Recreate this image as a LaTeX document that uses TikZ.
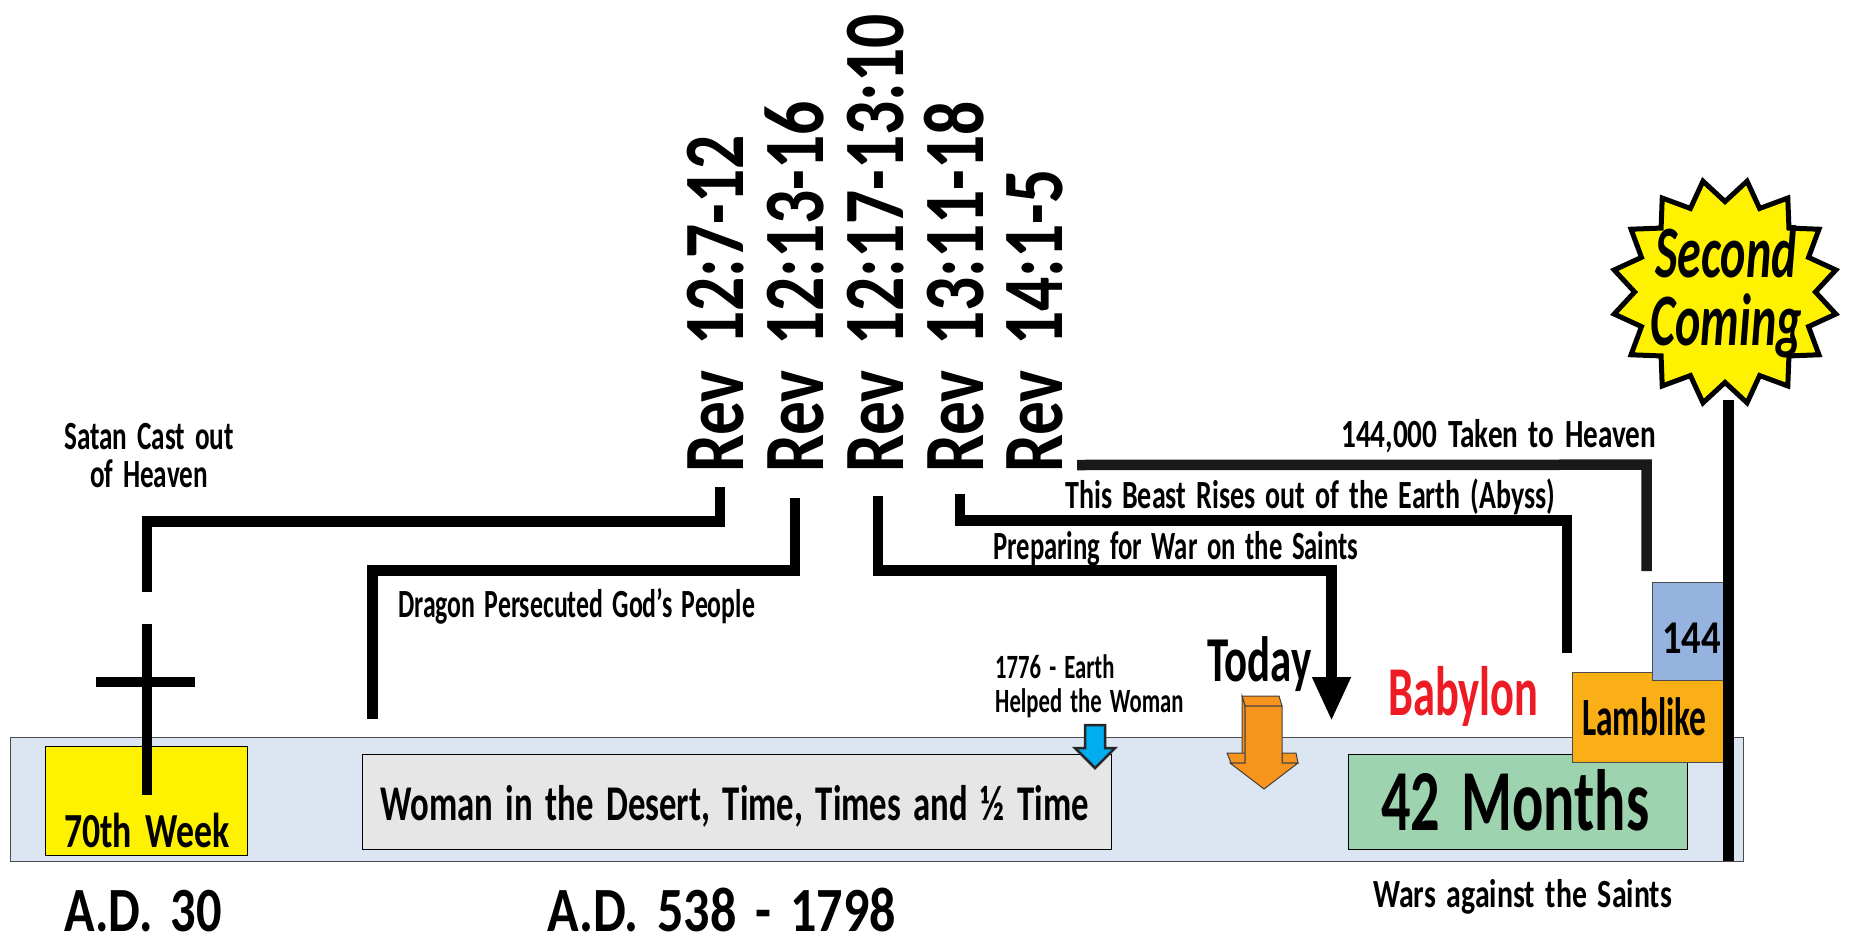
\documentclass[tikz,border=0pt]{standalone}
\usepackage{fontspec}
\usepackage{tikz}
\usetikzlibrary{arrows.meta,shapes.geometric}
\setmainfont[WordSpace=1.6]{Carlito}
\newcommand{\hand}[2]{\fontsize{#1}{#1}\bfseries\addfontfeature{FakeStretch=#2}}
\definecolor{barblue}{HTML}{DCE6F2}
\definecolor{weekyellow}{HTML}{FFF200}
\definecolor{desertgrey}{HTML}{E6E6E6}
\definecolor{monthgreen}{HTML}{9DD3AF}
\definecolor{lambgold}{HTML}{FAAF17}
\definecolor{boxblue}{HTML}{95B3DE}
\definecolor{todayorange}{HTML}{F7941D}
\definecolor{helpblue}{HTML}{00AEEF}
\definecolor{babred}{HTML}{ED1C24}
\tikzset{
  plate/.style={draw=black, line width=1.2pt, inner sep=0pt, anchor=north west},
  rule/.style={line width=10.5pt, black},
  revlabel/.style={rotate=90, anchor=base west, inner sep=0pt, font=\hand{86}{0.785}},
  note/.style={anchor=base west, inner sep=0pt},
  tag/.style={anchor=base west, inner sep=0pt}
}
\begin{document}
\begin{tikzpicture}[x=1pt, y=-1pt]
  \useasboundingbox (0,0) rectangle (1851,936);
  \node[plate, fill=barblue, draw=black!70, minimum width=1733pt, minimum height=124pt] (bar) at (10,737) {};
  \node[plate, fill=weekyellow, minimum width=202pt, minimum height=109pt] (week) at (45,746) {};
  \node[plate, fill=desertgrey, minimum width=749pt, minimum height=95pt] (desert) at (362,754) {};
  \node[plate, fill=monthgreen, minimum width=339pt, minimum height=95pt] (months) at (1348,754) {};
  \node[plate, fill=lambgold, draw=black!70, minimum width=152pt, minimum height=90pt] (lamb) at (1572,672) {};
  \node[plate, fill=boxblue, draw=black!70, minimum width=72pt, minimum height=98pt] (box144) at (1652,582) {};

  \node[tag, font=\hand{49}{0.73}] (weeklabel) at (64,847) {70th Week};
  \node[tag, font=\hand{50}{0.695}] (desertlabel) at (380,820) {Woman in the Desert, Time, Times and ½ Time};
  \node[tag, font=\hand{87}{0.67}] (monthslabel) at (1381,830) {42 Months};
  \node[tag, font=\hand{54}{0.62}] (lamblabel) at (1582,735) {Lamblike};
  \node[tag, font=\hand{47}{0.82}] (label144) at (1662,653) {144};
  \node[tag, font=\hand{63}{0.8}] (ad30) at (64,931) {A.D. 30};
  \node[tag, font=\hand{63}{0.827}] (ad538) at (547,931) {A.D. 538 - 1798};
  \node[tag, font=\hand{64}{0.67}] (today) at (1207,681) {Today};
  \node[tag, font=\hand{70}{0.635}, text=babred] (babylon) at (1388,715) {Babylon};
  \node[note, align=center, anchor=north, font=\hand{40}{0.68}] (satan) at (149,423) {Satan Cast out\\[-2pt]of Heaven};
  \node[note, font=\hand{40}{0.645}] (dragon) at (398,617) {Dragon Persecuted God's People};
  \node[note, font=\hand{40}{0.73}] (taken) at (1341,447) {144,000 Taken to Heaven};
  \node[note, font=\hand{40}{0.70}] (beast) at (1065,508) {This Beast Rises out of the Earth (Abyss)};
  \node[note, font=\hand{40}{0.667}] (war) at (993,559) {Preparing for War on the Saints};
  \node[note, font=\hand{34}{0.666}, align=left, anchor=north west] (earth) at (995,654) {1776 - Earth\\[0pt]Helped the Woman};
  \node[note, font=\hand{40}{0.745}] (wars) at (1373,907) {Wars against the Saints};

  \node[revlabel] (rev1) at (743,473) {Rev 12:7-12};
  \node[revlabel] (rev2) at (823,473) {Rev 12:13-16};
  \node[revlabel] (rev3) at (903,473) {Rev 12:17-13:10};
  \node[revlabel] (rev4) at (983,473) {Rev 13:11-18};
  \node[revlabel] (rev5) at (1062,473) {Rev 14:1-5};

  \coordinate (bend1) at (147,521.5);
  \coordinate (foot1) at (147,592);
  \coordinate (bend2) at (372.5,570.5);
  \coordinate (foot2) at (372.5,719);
  \coordinate (bend3) at (1331.5,570.5);
  \coordinate (foot3) at (1331.5,721);
  \coordinate (bend4) at (1567,520.5);
  \coordinate (foot4) at (1567,653);
  \coordinate (bend5) at (1646.5,464.7);
  \coordinate (foot5) at (1646.5,571);
  \draw[rule] ([xshift=-23pt,yshift=-14pt]rev1.base west) |- (bend1) -- (foot1);
  \draw[rule] ([xshift=-28pt,yshift=-25pt]rev2.base west) |- (bend2) -- (foot2);
  \draw[rule, -{Triangle[width=36pt,length=44pt]}] ([xshift=-25pt,yshift=-23pt]rev3.base west) |- (bend3) -- (foot3);
  \draw[rule] ([xshift=-23pt,yshift=-21pt]rev4.base west) |- (bend4) -- (foot4);
  \draw[rule, black!90] ([xshift=15pt,yshift=8pt]rev5.base west) -- (bend5) -- (foot5);

  \draw[rule] (147,624) -- (147,795);
  \draw[rule] (96,682) -- (195,682);

  \draw[black!75, line width=1pt, fill=todayorange] (1242,696) -- (1279,696) -- (1282,706) -- (1245,706) -- cycle;
  \draw[black!75, line width=1pt, fill=todayorange] (1242,696) -- (1245,706) -- (1245,763) -- (1242,755) -- cycle;
  \draw[black!75, line width=1pt, fill=todayorange] (1227,753) -- (1245,753) -- (1245,763) -- (1231,763) -- cycle;
  \draw[black!75, line width=1pt, fill=todayorange] (1282,753) -- (1296,753) -- (1298,763) -- (1282,763) -- cycle;
  \draw[black!75, line width=1pt, fill=todayorange] (1245,706) -- (1282,706) -- (1282,763) -- (1298,763) -- (1264,789) -- (1230,763) -- (1245,763) -- cycle;
  \draw[black!85, line width=2.5pt, fill=helpblue] (1085,725) -- (1105,725) -- (1105,748) -- (1115,748) -- (1095,768) -- (1075,748) -- (1085,748) -- cycle;

  \draw[rule] (1728.5,400) -- (1728.5,861);
  \node[star, star points=16, star point ratio=1.25, shape border rotate=11.25, minimum size=226pt, inner sep=0pt, draw=black, line width=5pt, fill=weekyellow] (burst) at (1725,292) {};
  \node[align=center, inner sep=0pt, font=\hand{74}{0.65}\itshape] (second) at (1726,292) {Second\\[-6pt]Coming};
\end{tikzpicture}
\end{document}
